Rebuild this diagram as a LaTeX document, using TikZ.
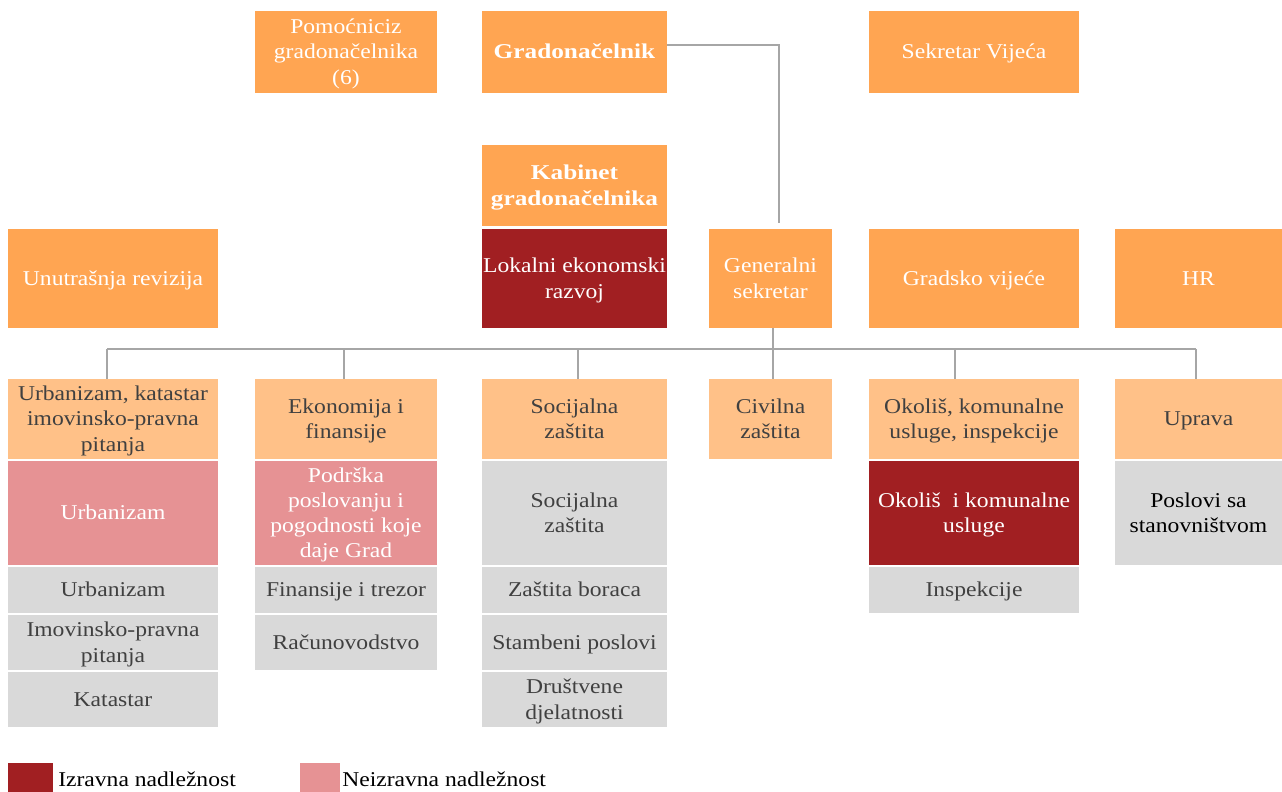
\documentclass[tikz,border=0pt]{standalone}
\usepackage{fontspec}
\setmainfont{Liberation Serif}[FakeStretch=1.12, BoldFeatures={FakeStretch=1.2}]
\definecolor{org}{HTML}{FFA552}
\definecolor{lorg}{HTML}{FFC188}
\definecolor{dred}{HTML}{A11F22}
\definecolor{pnk}{HTML}{E69294}
\definecolor{gry}{HTML}{D9D9D9}
\definecolor{txt}{HTML}{404040}
\definecolor{ln}{HTML}{A6A6A6}
\tikzset{
  bx/.style={draw=none, inner sep=0pt, outer sep=0pt,
    font=\fontsize{15.8}{18.9}\selectfont},
  orgbox/.style={bx, fill=org, text=white},
  lbox/.style={bx, fill=lorg, text=txt},
  redbox/.style={bx, fill=dred, text=white},
  pbox/.style={bx, fill=pnk, text=white},
  gbox/.style={bx, fill=gry, text=txt},
  conn/.style={draw=ln, line width=1.3pt},
  legtext/.style={anchor=west, inner sep=0pt, font=\fontsize{15.8}{18.9}\selectfont, text=black},
}
\newcommand\boxtext[1]{\raisebox{-1.4pt}[\height][\depth]{\begin{tabular}{@{}c@{}}#1\end{tabular}}}
\newcommand\rbox[7]{\node[#2, minimum width={(#5-#3)*0.75pt}, minimum height={(#6-#4)*0.75pt}] (#1) at ({(#3+#5)/2},{(#4+#6)/2}) {\boxtext{#7}};}
\begin{document}
\begin{tikzpicture}[x=0.75pt,y=-0.75pt]
\useasboundingbox (0,0) rectangle (1282,792);
% row 1
\rbox{pom}{orgbox}{255}{11}{437}{93}{Pomoćniciz\\gradonačelnika\\(6)}
\rbox{gra}{orgbox}{482}{11}{667}{93}{\textbf{Gradonačelnik}}
\rbox{sek}{orgbox}{869}{11}{1079}{93}{Sekretar Vijeća}
% row 2
\rbox{kab}{orgbox}{482}{145}{667}{226}{\textbf{Kabinet}\\\textbf{gradonačelnika}}
% row 3
\rbox{unu}{orgbox}{8}{229}{218}{328}{Unutrašnja revizija}
\rbox{lok}{redbox}{482}{229}{667}{328}{Lokalni ekonomski\\razvoj}
\rbox{gen}{orgbox}{709}{229}{832}{328}{Generalni\\sekretar}
\rbox{vij}{orgbox}{869}{229}{1079}{328}{Gradsko vijeće}
\rbox{hr}{orgbox}{1115}{229}{1282}{328}{HR}
% row 4
\rbox{urb}{lbox}{8}{379}{218}{459}{Urbanizam, katastar\\imovinsko-pravna\\pitanja}
\rbox{eko}{lbox}{255}{379}{437}{459}{Ekonomija i\\finansije}
\rbox{soc}{lbox}{482}{379}{667}{459}{Socijalna\\zaštita}
\rbox{civ}{lbox}{709}{379}{832}{459}{Civilna\\zaštita}
\rbox{oko}{lbox}{869}{379}{1079}{459}{Okoliš, komunalne\\usluge, inspekcije}
\rbox{upr}{lbox}{1115}{379}{1282}{459}{Uprava}
% row 5
\rbox{urb1}{pbox}{8}{461}{218}{565}{Urbanizam}
\rbox{pod}{pbox}{255}{461}{437}{565}{Podrška\\poslovanju i\\pogodnosti koje\\daje Grad}
\rbox{soc1}{gbox}{482}{461}{667}{565}{Socijalna\\zaštita}
\rbox{oko1}{redbox}{869}{461}{1079}{565}{Okoliš\ \ i komunalne\\usluge}
\rbox{pos}{gbox}{1115}{461}{1282}{565}{\color{black}Poslovi sa\\\color{black}stanovništvom}
% row 6
\rbox{urb2}{gbox}{8}{567}{218}{613}{Urbanizam}
\rbox{fin}{gbox}{255}{567}{437}{613}{Finansije i trezor}
\rbox{zas}{gbox}{482}{567}{667}{613}{Zaštita boraca}
\rbox{ins}{gbox}{869}{567}{1079}{613}{Inspekcije}
% row 7
\rbox{imo}{gbox}{8}{615}{218}{670}{Imovinsko-pravna\\pitanja}
\rbox{rac}{gbox}{255}{615}{437}{670}{Računovodstvo}
\rbox{sta}{gbox}{482}{615}{667}{670}{Stambeni poslovi}
% row 8
\rbox{kat}{gbox}{8}{672}{218}{727}{Katastar}
\rbox{dru}{gbox}{482}{672}{667}{727}{Društvene\\djelatnosti}
% legend
\node[redbox, minimum width=33.75pt, minimum height=21.75pt] (lg1) at (30.5,777.5) {};
\node[pbox, minimum width=30pt, minimum height=21.75pt] (lg2) at (320,777.5) {};
\node[legtext] (lt1) at (58,779) {Izravna nadležnost};
\node[legtext] (lt2) at (342,779) {Neizravna nadležnost};
% connectors
\coordinate (c1) at (779,45);
\coordinate (c2) at (779,223);
\draw[conn] (gra.east |- c1) -- (c1) -- (c2);
\coordinate (busL) at (107,349);
\coordinate (busR) at (1196,349);
\draw[conn] (busL) -- (busR);
\draw[conn] (gen.south -| 773,0) -- (civ.north -| 773,0);
\draw[conn] (busL) -- (urb.north -| busL);
\draw[conn] (344,349) -- (eko.north -| 344,0);
\draw[conn] (578,349) -- (soc.north -| 578,0);
\draw[conn] (955,349) -- (oko.north -| 955,0);
\draw[conn] (busR) -- (upr.north -| busR);
\end{tikzpicture}
\end{document}
